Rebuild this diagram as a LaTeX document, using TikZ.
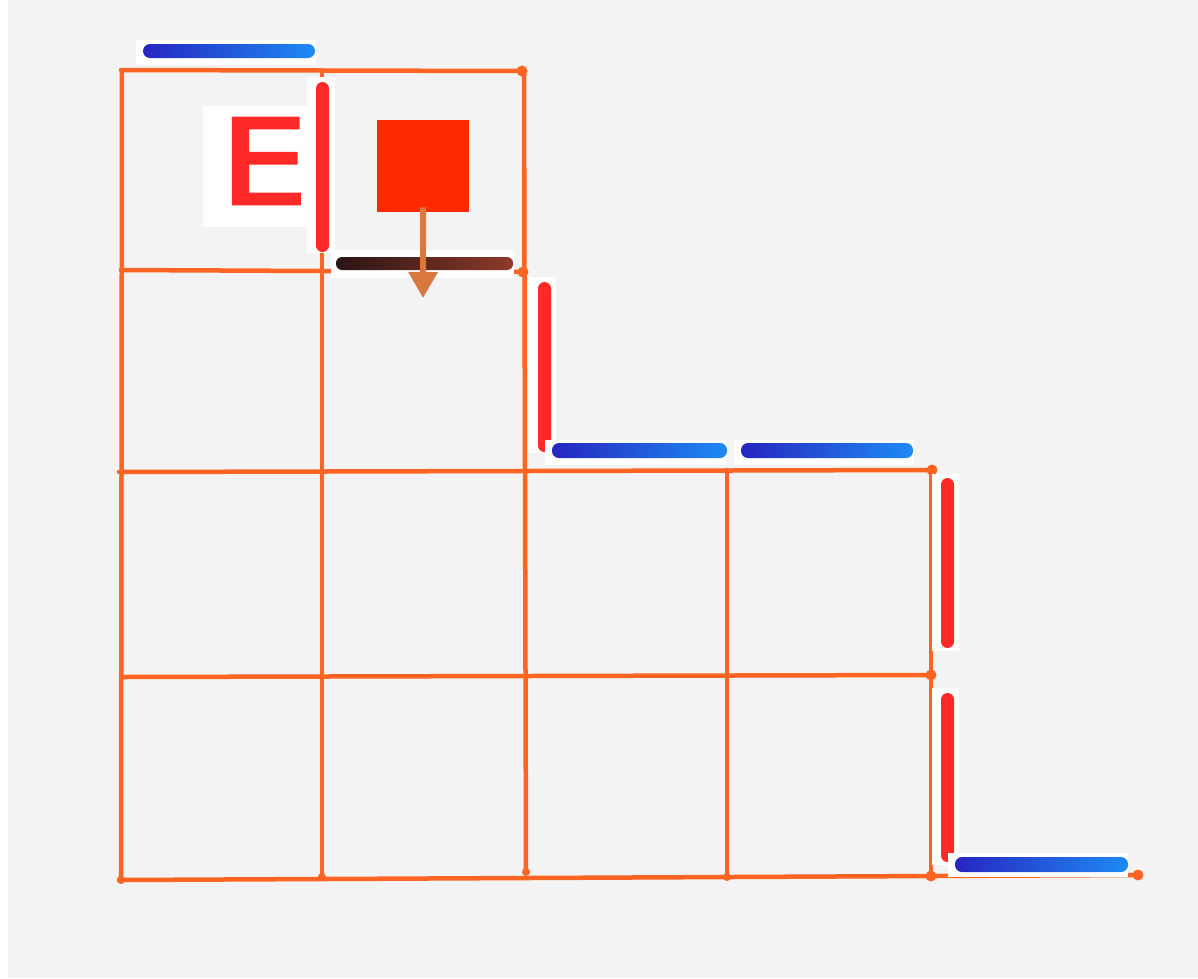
\documentclass[tikz,border=0pt]{standalone}
\usepackage{fontspec}
\newfontfamily\efont[FakeBold=2.5]{DejaVu Sans}
\usetikzlibrary{arrows.meta}
\definecolor{paper}{HTML}{F3F3F3}
\definecolor{grid}{HTML}{FF6422}
\definecolor{redmark}{HTML}{FF2A28}
\definecolor{bluedark}{HTML}{2626C0}
\definecolor{bluemid}{HTML}{1E3CDA}
\definecolor{bluelight}{HTML}{1E8AF4}
\definecolor{browndark}{HTML}{2A1414}
\definecolor{brownmid}{HTML}{5A2018}
\definecolor{brownlight}{HTML}{8E3A2A}
\definecolor{sqred}{HTML}{FF2A00}
\definecolor{arrowc}{HTML}{D8783E}
\tikzset{
  gridline/.style={draw=grid, line width=4.5pt, line cap=round},
  griddot/.style={fill=grid, circle, inner sep=0pt, minimum size=11pt},
  patch/.style={fill=white, draw=none},
  vmark/.style={fill=redmark, rounded corners=6.5pt},
  bluemark/.style={left color=bluedark, middle color=bluemid, right color=bluelight, rounded corners=7pt},
  brownmark/.style={left color=browndark, middle color=brownmid, right color=brownlight, rounded corners=6pt},
}
\begin{document}
\begin{tikzpicture}[x=1pt,y=-1pt]
\useasboundingbox (0,0) rectangle (1198,978);
\fill[white] (0,0) rectangle (1198,978);
\fill[paper] (8,0) rectangle (1198,978);

% grid lines
\draw[gridline] (121,70) -- (522,71);
\draw[gridline] (121,270) -- (524,272);
\draw[gridline] (119,472) -- (931,470);
\draw[gridline] (121,677) -- (931,675);
\draw[gridline] (119,880) -- (1138,875);
\draw[gridline] (122,70) -- (121,880);
\draw[gridline] (322,70) -- (322,877);
\draw[gridline] (524,72) -- (526,873);
\draw[gridline] (727,470) -- (727,877);
\draw[gridline] (931,470) -- (931,876);

% dots
\node[griddot] (d1) at (522,71) {};
\node[griddot] (d2) at (523,272) {};
\node[griddot] (d3) at (932,470) {};
\node[griddot] (d4) at (931,675) {};
\node[griddot] (d5) at (931,876) {};
\node[griddot] (d6) at (1138,875) {};
\node[griddot, minimum size=8pt] (d7) at (322,877) {};
\node[griddot, minimum size=8pt] (d8) at (526,872) {};
\node[griddot, minimum size=8pt] (d9) at (727,877) {};
\node[griddot, minimum size=8pt] (d10) at (121,880) {};

% top blue
\fill[patch] (136,40) rectangle (316,65);
\shade[bluemark] (143,44) rectangle (315,58);
% E
\fill[patch] (203,106) rectangle (307,227);
\node[text=redmark, font=\efont\fontsize{118}{118}\selectfont, inner sep=0pt, anchor=base, xscale=1.18] (E) at (264,204) {E};
% red vertical 1
\fill[patch] (307,77) rectangle (335,253);
\fill[vmark] (316,82) rectangle (329,252);
% red square
\node[fill=sqred, minimum size=92pt, inner sep=0pt, anchor=north west] (sq) at (377,120) {};
% brown stroke
\fill[patch] (331,250) rectangle (514,278);
\shade[brownmark] (336,257) rectangle (513,270);
% arrow
\coordinate (tip) at (423,298);
\draw[draw=arrowc, line width=6pt, -{Triangle[length=26pt,width=28pt]}] ([yshift=5pt]sq.south) -- (tip);
% red vertical 2
\fill[patch] (528,277) rectangle (556,453);
\fill[vmark] (538,282) rectangle (551,452);
% blue 2 and 3
\fill[patch] (545,440) rectangle (727,465);
\shade[bluemark] (552,443) rectangle (727,458);
\fill[patch] (734,440) rectangle (914,465);
\shade[bluemark] (741,443) rectangle (913,458);
% red vertical 3 and 4
\fill[patch] (932,474) rectangle (959,651);
\fill[vmark] (941,478) rectangle (954,648);
\fill[patch] (932,688) rectangle (959,865);
\fill[vmark] (941,693) rectangle (954,862);
% blue 4
\fill[patch] (948,853) rectangle (1128,877);
\shade[bluemark] (955,857) rectangle (1128,872);
\end{tikzpicture}
\end{document}
